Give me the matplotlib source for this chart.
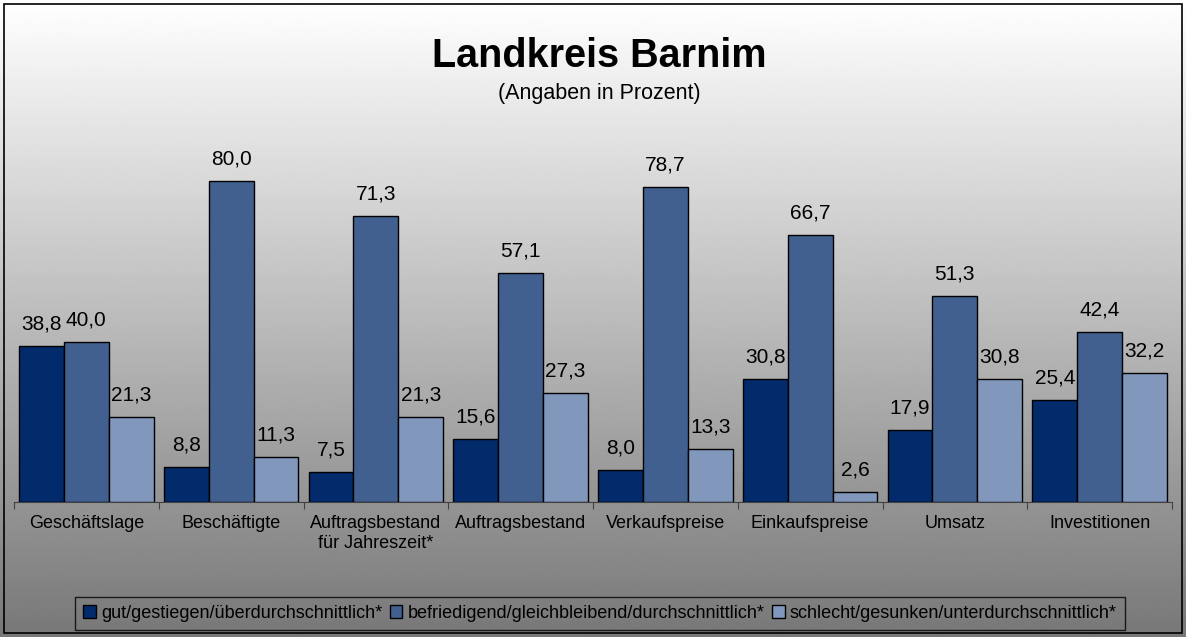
import numpy as np
import matplotlib.pyplot as plt
from matplotlib.patches import Rectangle

plt.rcParams['font.family'] = ['Liberation Sans', 'DejaVu Sans']

kategorien = ['Geschäftslage', 'Beschäftigte', 'Auftragsbestand\nfür Jahreszeit*', 'Auftragsbestand',
              'Verkaufspreise', 'Einkaufspreise', 'Umsatz', 'Investitionen']
gut = [38.8, 8.8, 7.5, 15.6, 8.0, 30.8, 17.9, 25.4]
befriedigend = [40.0, 80.0, 71.3, 57.1, 78.7, 66.7, 51.3, 42.4]
schlecht = [21.3, 11.3, 21.3, 27.3, 13.3, 2.6, 30.8, 32.2]
namen = ['gut/gestiegen/überdurchschnittlich*',
         'befriedigend/gleichbleibend/durchschnittlich*',
         'schlecht/gesunken/unterdurchschnittlich*']
farben = ['#032A6A', '#41608F', '#8197BB']

fig = plt.figure(figsize=(11.86, 6.37), dpi=100)

# Hintergrund mit Verlauf
bg = fig.add_axes([0, 0, 1, 1], zorder=0)
verlauf = np.linspace(1.0, 0.47, 256).reshape(-1, 1)
bg.imshow(verlauf, cmap='gray', vmin=0, vmax=1, aspect='auto', extent=[0, 1, 0, 1])
bg.set_axis_off()
fig.patches.append(Rectangle((4 / 1186, 4 / 637), 1 - 8 / 1186, 1 - 8 / 637,
                             transform=fig.transFigure, fill=False, edgecolor='black', linewidth=1.2))

ax = fig.add_axes([14 / 1186, 135 / 637, (1172 - 14) / 1186, (502 - 120) / 637], zorder=1)
ax.patch.set_alpha(0)

x = np.arange(len(kategorien))
w = 0.31
for i, (serie, farbe, name) in enumerate(zip([gut, befriedigend, schlecht], farben, namen)):
    pos = x + (i - 1) * w
    ax.bar(pos, serie, w, color=farbe, edgecolor='black', linewidth=1, label=name, zorder=3)
    for p, v in zip(pos, serie):
        ax.annotate(f'{v:.1f}'.replace('.', ','), (p, v), xytext=(0, 9), textcoords='offset points',
                    ha='center', va='bottom', fontsize=15)

ax.set_xlim(-0.5, len(kategorien) - 0.5)
ax.set_ylim(0, 95.3)
ax.set_yticks([])
for s in ['left', 'right', 'top']:
    ax.spines[s].set_visible(False)
ax.spines['bottom'].set_color('#404040')
ax.set_xticks(np.arange(len(kategorien) + 1) - 0.5)
ax.set_xticklabels([])
ax.tick_params(axis='x', which='major', length=5, color='#404040')
ax.set_xticks(x, minor=True)
ax.set_xticklabels(kategorien, minor=True, fontsize=13, linespacing=1.3)
ax.tick_params(axis='x', which='minor', length=0, pad=9)

fig.text(0.5055, 1 - 67 / 637, 'Landkreis Barnim', ha='center', va='baseline', fontsize=28.5, fontweight='bold')
fig.text(0.5055, 1 - 99 / 637, '(Angaben in Prozent)', ha='center', va='baseline', fontsize=15.5)

leg = fig.legend(loc='center', bbox_to_anchor=(600 / 1186, 1 - 613.5 / 637), ncol=3, fontsize=13,
                 frameon=True, fancybox=False, handlelength=0.7, handleheight=0.7,
                 handletextpad=0.3, columnspacing=0.4, borderpad=0.45, borderaxespad=0)
leg.get_frame().set_facecolor('none')
leg.get_frame().set_edgecolor('black')
leg.get_frame().set_linewidth(1)

fig.savefig('out.png', dpi=100)
